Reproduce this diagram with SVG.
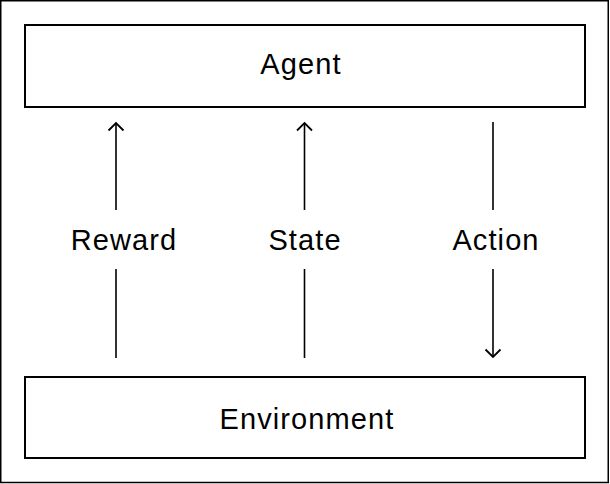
<svg xmlns="http://www.w3.org/2000/svg" width="610" height="484" viewBox="0 0 610 484">
<style>
.box{fill:#fff;stroke:#000;stroke-width:2}
.lbl{font-family:"Liberation Sans",Arial,sans-serif;font-size:29px;letter-spacing:1.1px;fill:#000;text-anchor:middle}
.ln{fill:none;stroke:#000;stroke-width:1.6}
</style>
<defs>
<marker id="ah" viewBox="-9 -9 18 18" markerWidth="18" markerHeight="18" refX="0" refY="0" orient="auto" markerUnits="userSpaceOnUse">
<path d="M-7.5,-7.5 L0,0 L-7.5,7.5" fill="none" stroke="#000" stroke-width="1.8"/>
</marker>
</defs>
<rect x="0.75" y="0.75" width="607.5" height="481.75" fill="#fff" stroke="#000" stroke-width="1.5"/>
<g id="agent">
<rect class="box" x="25" y="25" width="560" height="82"/>
<text class="lbl" x="301" y="73.5">Agent</text>
</g>
<g id="environment">
<rect class="box" x="25" y="377" width="560" height="81"/>
<text class="lbl" x="307" y="428.5">Environment</text>
</g>
<g id="connectors">
<line class="ln" x1="116" y1="210" x2="116" y2="123" marker-end="url(#ah)"/>
<line class="ln" x1="116" y1="269" x2="116" y2="358"/>
<text class="lbl" x="124" y="249.5">Reward</text>
<line class="ln" x1="304.5" y1="210" x2="304.5" y2="123" marker-end="url(#ah)"/>
<line class="ln" x1="304.5" y1="269" x2="304.5" y2="358"/>
<text class="lbl" x="305" y="249.5">State</text>
<line class="ln" x1="493" y1="122" x2="493" y2="210"/>
<line class="ln" x1="493" y1="269" x2="493" y2="357" marker-end="url(#ah)"/>
<text class="lbl" x="496" y="249.5">Action</text>
</g>
</svg>
